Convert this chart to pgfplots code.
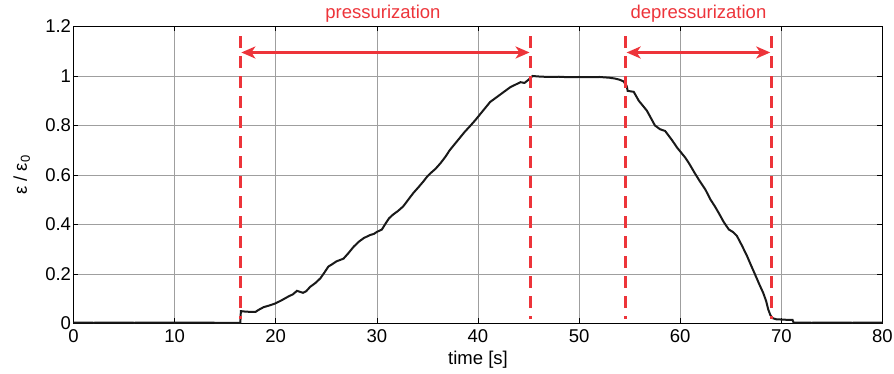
\documentclass[border=0pt]{standalone}
\usepackage{fontspec}
\setmainfont{Liberation Sans}
\usepackage{pgfplots}
\pgfplotsset{compat=1.18}
\usetikzlibrary{arrows.meta}
\definecolor{redc}{RGB}{237,52,58}
\newcommand{\fs}{\fontsize{18.5bp}{22bp}\selectfont}
\begin{document}
\begin{tikzpicture}
\begin{axis}[
  scale only axis, width=809bp, height=297bp,
  xmin=0, xmax=80, ymin=0, ymax=1.2,
  xtick={0,10,...,80}, ytick={0,0.2,0.4,0.6,0.8,1,1.2},
  yticklabels={0,0.2,0.4,0.6,0.8,1,1.2},
  /pgf/number format/assume math mode=true,
  tick label style={font=\fs},
  label style={font=\fs},
  xticklabel style={yshift=-3bp},
  yticklabel style={xshift=1bp},
  tick align=inside, major tick length=5bp,
  tick style={black, line width=0.6bp},
  axis line style={black, line width=1.1bp},
  grid=major, grid style={gray!75, line width=0.6bp},
  xlabel={time [s]}, ylabel={ε / ε\textsubscript{0}},
  xlabel style={at={(axis description cs:0.5,-0.123)}, anchor=center},
  ylabel style={at={(axis description cs:-0.064,0.5)}, anchor=center},
  clip=false,
]
\addplot[black!90, line width=2bp] coordinates {
(0,0.004) (2,0.003) (4,0.004) (6,0.003) (8,0.004) (10,0.003) (12,0.004) (14,0.003) (16.5,0.003)
(16.55,0.05) (17.0,0.048) (17.5,0.047) (18.0,0.047) (18.3,0.055) (18.8,0.066) (19.3,0.072) (19.9,0.08)
(20.5,0.092) (21.2,0.108) (21.7,0.118) (22.1,0.132) (22.7,0.124) (23.0,0.13) (23.4,0.148) (23.9,0.163)
(24.4,0.182) (24.8,0.205) (25.2,0.23) (25.6,0.24) (26.0,0.251) (26.7,0.262) (27.2,0.285) (27.7,0.31)
(28.2,0.33) (28.7,0.345) (29.3,0.357) (29.7,0.362) (30.0,0.37) (30.5,0.38) (30.8,0.40) (31.2,0.425)
(31.6,0.44) (32.1,0.455) (32.6,0.473) (33.1,0.5) (33.6,0.527) (34.1,0.55) (34.6,0.574) (35.0,0.595)
(35.3,0.607) (35.8,0.625) (36.3,0.648) (36.8,0.675) (37.2,0.70) (37.7,0.725) (38.2,0.75) (38.7,0.775)
(39.2,0.797) (39.7,0.82) (40.2,0.845) (40.7,0.87) (41.2,0.895) (41.7,0.91) (42.2,0.925) (42.7,0.94)
(43.2,0.955) (43.7,0.965) (44.2,0.975) (44.6,0.972) (45.0,0.985) (45.4,1.0) (46,0.998) (47,0.996)
(48,0.997) (49,0.995) (50,0.996) (51,0.995) (52,0.996) (53,0.993) (53.5,0.99) (54.0,0.985) (54.4,0.978)
(54.7,0.96) (54.8,0.94) (55.4,0.936) (55.9,0.90) (56.3,0.88) (56.7,0.86) (57.1,0.83) (57.5,0.80)
(58.0,0.785) (58.5,0.778) (59.2,0.74) (59.7,0.71) (60.1,0.69) (60.5,0.67) (60.9,0.645) (61.4,0.61)
(61.9,0.577) (62.5,0.54) (63.0,0.50) (63.4,0.475) (63.8,0.447) (64.3,0.41) (64.8,0.38) (65.2,0.37)
(65.6,0.354) (66.1,0.315) (66.6,0.273) (67.0,0.235) (67.4,0.198) (67.8,0.16) (68.2,0.124) (68.5,0.09)
(68.7,0.057) (68.9,0.035) (69.1,0.022) (69.5,0.017) (70.0,0.016) (70.5,0.015) (71.1,0.015) (71.2,0.004)
(73,0.003) (75,0.004) (77,0.003) (79,0.004) (80,0.003)
};
\addplot[redc, line width=3bp, dash pattern=on 12bp off 8bp] coordinates {(16.5,1.16) (16.5,0.02)};
\addplot[redc, line width=3bp, dash pattern=on 12bp off 8bp] coordinates {(45.2,1.16) (45.2,0.02)};
\addplot[redc, line width=3bp, dash pattern=on 12bp off 8bp] coordinates {(54.6,1.16) (54.6,0.02)};
\addplot[redc, line width=3bp, dash pattern=on 12bp off 8bp] coordinates {(69.0,1.16) (69.0,0.02)};
\addplot[redc, line width=2.5bp, {Stealth[length=14bp,width=12bp,inset=4bp]}-{Stealth[length=14bp,width=12bp,inset=4bp]}] coordinates {(16.6,1.095) (45.1,1.095)};
\addplot[redc, line width=2.5bp, {Stealth[length=14bp,width=12bp,inset=4bp]}-{Stealth[length=14bp,width=12bp,inset=4bp]}] coordinates {(54.7,1.095) (68.9,1.095)};
\node[text=redc, font=\fs, anchor=center] at (axis cs:30.6,1.252) {pressurization};
\node[text=redc, font=\fs, anchor=center] at (axis cs:61.8,1.252) {depressurization};
\end{axis}
\pgfresetboundingbox
\path (-73.5bp,-50.5bp) rectangle (820.5bp,323.5bp);
\end{tikzpicture}
\end{document}
